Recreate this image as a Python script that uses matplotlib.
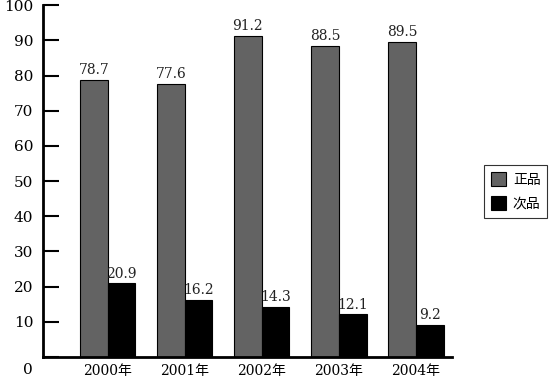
import numpy as np
import matplotlib
matplotlib.use("Agg")
import matplotlib.pyplot as plt
from matplotlib.transforms import ScaledTranslation

years = ["2000年", "2001年", "2002年", "2003年", "2004年"]
good = [78.7, 77.6, 91.2, 88.5, 89.5]
bad = [20.9, 16.2, 14.3, 12.1, 9.2]
series_names = ["正品", "次品"]
yticks = [0, 10, 20, 30, 40, 50, 60, 70, 80, 90, 100]

fam = ["DejaVu Serif", "Noto Sans CJK SC"]
plt.rcParams['font.family'] = fam

fig = plt.figure(figsize=(5.5, 3.8), dpi=100)
ax = fig.add_axes([0.078, 0.0605, 0.744, 0.926])

x = np.arange(len(years))
w = 0.36
b1 = ax.bar(x - w/2, good, w, color="#636363", edgecolor="black", linewidth=0.8, label=series_names[0])
b2 = ax.bar(x + w/2, bad, w, color="black", edgecolor="black", linewidth=0.8, label=series_names[1])

for rects, vals in [(b1, good), (b2, bad)]:
    for r, v in zip(rects, vals):
        ax.text(r.get_x() + r.get_width()/2, v + 0.8, f"{v}", ha="center", va="bottom",
                fontsize=10, color="#222222")

ax.set_xlim(-0.84, 4.47)
ax.set_ylim(0, 100)
ax.set_yticks(yticks)
ax.set_xticks(x)
ax.set_xticklabels(years, fontsize=10, family=fam)
ax.tick_params(axis="y", direction="in", length=11.5, width=1.5, pad=7, labelsize=11)
ax.tick_params(axis="x", length=0, pad=5)
# the zero label sits a little below the axis line in the original
zero_lbl = ax.get_yticklabels()[0]
zero_lbl.set_transform(zero_lbl.get_transform() + ScaledTranslation(0, -8/72, fig.dpi_scale_trans))
for s in ["top", "right"]:
    ax.spines[s].set_visible(False)
ax.spines["left"].set_linewidth(2)
ax.spines["bottom"].set_linewidth(2)

leg = ax.legend(loc="center left", bbox_to_anchor=(1.06, 0.47), frameon=True, fancybox=False,
                edgecolor="black", fontsize=10, handlelength=1.1, handleheight=1.1,
                handletextpad=0.5, borderpad=0.5, labelspacing=0.7)
leg.get_frame().set_linewidth(0.8)

fig.savefig("out.png", dpi=100)
